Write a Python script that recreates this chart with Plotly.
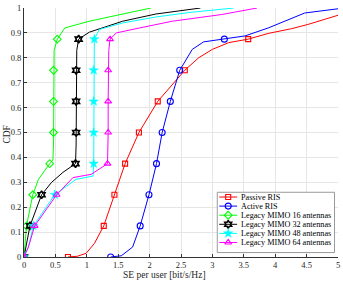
import plotly.graph_objects as go

# ---------------- data ----------------
cdf_levels = [0, 0.125, 0.25, 0.375, 0.5, 0.625, 0.75, 0.875]

series_names = ["Passive RIS", "Active RIS", "Legacy MIMO 16 antennas",
                "Legacy MIMO 32 antennas", "Legacy MIMO 48 antennas",
                "Legacy MIMO 64 antennas"]

passive_marker_x = [0.70, 1.27, 1.44, 1.61, 1.83, 2.13, 2.56, 3.57]
passive_curve_x = [0.70, 0.85, 0.99, 1.12, 1.27, 1.44, 1.61, 1.83, 2.13, 2.56, 2.78, 3.00, 3.26, 3.57, 3.89, 4.26, 4.52, 5.00]
passive_curve_y = [0, 0.003, 0.015, 0.054, 0.125, 0.25, 0.375, 0.5, 0.625, 0.75, 0.80, 0.834, 0.861, 0.875, 0.898, 0.917, 0.934, 0.971]

active_marker_x = [1.38, 1.85, 1.99, 2.11, 2.20, 2.33, 2.48, 3.19]
active_curve_x = [1.38, 1.55, 1.73, 1.85, 1.99, 2.11, 2.20, 2.33, 2.48, 2.68, 2.86, 3.19, 3.52, 3.89, 4.26, 4.47, 5.00]
active_curve_y = [0, 0.005, 0.04, 0.125, 0.25, 0.375, 0.5, 0.625, 0.75, 0.834, 0.864, 0.875, 0.888, 0.92, 0.96, 0.98, 0.997]

mimo16_marker_x = [0, 0.04, 0.14, 0.41, 0.47, 0.47, 0.47, 0.53]
mimo16_curve_x = [0, 0.04, 0.14, 0.23, 0.41, 0.46, 0.47, 0.47, 0.47, 0.47, 0.48, 0.53, 0.65, 1.04, 1.52, 2.02]
mimo16_curve_y = [0, 0.125, 0.25, 0.312, 0.375, 0.39, 0.45, 0.5, 0.625, 0.75, 0.83, 0.875, 0.92, 0.947, 0.973, 1.0]

mimo32_marker_x = [0, 0.095, 0.28, 0.82, 0.83, 0.83, 0.83, 0.87]
mimo32_curve_x = [0, 0.095, 0.28, 0.44, 0.62, 0.82, 0.83, 0.83, 0.83, 0.83, 0.84, 0.87, 1.04, 1.57, 2.10, 2.81]
mimo32_curve_y = [0, 0.125, 0.25, 0.30, 0.34, 0.375, 0.45, 0.5, 0.625, 0.75, 0.83, 0.875, 0.903, 0.947, 0.976, 1.0]

mimo48_marker_x = [0, 0.15, 0.49, 1.11, 1.11, 1.11, 1.11, 1.12]
mimo48_curve_x = [0, 0.07, 0.15, 0.49, 0.83, 1.10, 1.11, 1.11, 1.11, 1.11, 1.11, 1.12, 1.20, 1.57, 2.10, 2.63, 3.34]
mimo48_curve_y = [0, 0.04, 0.125, 0.25, 0.312, 0.325, 0.375, 0.5, 0.625, 0.75, 0.83, 0.875, 0.914, 0.94, 0.964, 0.982, 1.0]

mimo64_marker_x = [0, 0.17, 0.52, 1.33, 1.34, 1.34, 1.34, 1.37]
mimo64_curve_x = [0, 0.07, 0.17, 0.52, 0.78, 1.07, 1.33, 1.34, 1.34, 1.34, 1.34, 1.35, 1.37, 1.47, 1.84, 2.36, 3.15, 3.71]
mimo64_curve_y = [0, 0.04, 0.125, 0.25, 0.319, 0.332, 0.375, 0.45, 0.5, 0.625, 0.75, 0.83, 0.875, 0.9, 0.92, 0.947, 0.974, 1.0]

x_ticks = [0, 0.5, 1, 1.5, 2, 2.5, 3, 3.5, 4, 4.5, 5]
x_tick_labels = ["0", "0.5", "1", "1.5", "2", "2.5", "3", "3.5", "4", "4.5", "5"]
y_ticks = [0, 0.1, 0.2, 0.3, 0.4, 0.5, 0.6, 0.7, 0.8, 0.9, 1]
y_tick_labels = ["0", "0.1", "0.2", "0.3", "0.4", "0.5", "0.6", "0.7", "0.8", "0.9", "1"]

# ---------------- styles ----------------
colors = ["#FF0000", "#0000FF", "#00FF00", "#000000", "#00FFFF", "#FF00FF"]
symbols = ["square-open", "circle-open", "diamond-open", "hexagram-open", "star", "triangle-up-open"]
msizes = [5, 6, 6, 6, 7, 6]
mlines = [1.1, 1.1, 1.1, 1.6, 0.5, 1.1]
FONT = "Liberation Serif"

# plot area in pixels
PL, PR, PT, PB = 24, 340, 5, 257
W, H = 343, 282

def px2paper_x(px):
    return (px - PL) / (PR - PL)

def px2paper_y(py):
    return (PB - py) / (PB - PT)

curves = [
    (passive_curve_x, passive_curve_y, passive_marker_x),
    (active_curve_x, active_curve_y, active_marker_x),
    (mimo16_curve_x, mimo16_curve_y, mimo16_marker_x),
    (mimo32_curve_x, mimo32_curve_y, mimo32_marker_x),
    (mimo48_curve_x, mimo48_curve_y, mimo48_marker_x),
    (mimo64_curve_x, mimo64_curve_y, mimo64_marker_x),
]

fig = go.Figure()
for i, (cx, cy, mx) in enumerate(curves):
    fig.add_trace(go.Scatter(x=cx, y=cy, mode="lines", showlegend=False,
                             line=dict(color=colors[i], width=1), hoverinfo="skip"))
    fig.add_trace(go.Scatter(x=mx, y=cdf_levels, mode="markers", showlegend=False,
                             marker=dict(symbol=symbols[i], size=msizes[i], color=colors[i],
                                         line=dict(width=mlines[i], color=colors[i]))))

# ---------------- manual legend (pixel-space overlay axes) ----------------
box_l, box_r, box_t, box_b = 218.5, 336.5, 191.5, 252.5
row0, row_dy = 196.3, 9.2
line_l, line_r, mark_x, text_x = 220.5, 238.5, 229.5, 240.0

fig.add_trace(go.Scatter(x=[box_l, box_r, box_r, box_l, box_l],
                         y=[box_t, box_t, box_b, box_b, box_t],
                         xaxis="x2", yaxis="y2", mode="lines", fill="toself",
                         fillcolor="white", line=dict(color="#9a9a9a", width=1),
                         showlegend=False, hoverinfo="skip"))
annotations = []
for i, name in enumerate(series_names):
    ry = row0 + row_dy * i
    fig.add_trace(go.Scatter(x=[line_l, line_r], y=[ry, ry], xaxis="x2", yaxis="y2",
                             mode="lines", line=dict(color=colors[i], width=1),
                             showlegend=False, hoverinfo="skip"))
    fig.add_trace(go.Scatter(x=[mark_x], y=[ry], xaxis="x2", yaxis="y2", mode="markers",
                             marker=dict(symbol=symbols[i], size=msizes[i], color=colors[i],
                                         line=dict(width=mlines[i], color=colors[i])),
                             showlegend=False, hoverinfo="skip"))
    annotations.append(dict(x=text_x, y=ry, xref="x2", yref="y2", text=name,
                            showarrow=False, xanchor="left", yanchor="middle",
                            font=dict(family=FONT, size=8.2, color="#000000")))

# axis titles (paper coordinates, since they lie outside the plot area)
annotations.append(dict(x=px2paper_x(165), y=px2paper_y(275), xref="paper", yref="paper",
                        text="SE per user [bit/s/Hz]",
                        showarrow=False, xanchor="center", yanchor="middle",
                        font=dict(family=FONT, size=9.5, color="#262626")))
annotations.append(dict(x=px2paper_x(7), y=px2paper_y(133), xref="paper", yref="paper",
                        text="CDF", textangle=-90,
                        showarrow=False, xanchor="center", yanchor="middle",
                        font=dict(family=FONT, size=9.5, color="#262626")))

axis_common = dict(showgrid=True, gridcolor="#e6e6e6", gridwidth=1, zeroline=False,
                   showline=True, linecolor="#333333", linewidth=1, ticks="inside",
                   ticklen=3, tickcolor="#333333", mirror=False,
                   tickfont=dict(family=FONT, size=8.5, color="#262626"))

fig.update_layout(
    width=W, height=H,
    margin=dict(l=PL, r=W - PR, t=PT, b=H - PB),
    paper_bgcolor="white", plot_bgcolor="white",
    showlegend=False,
    xaxis=dict(range=[0, 5], tickvals=x_ticks, ticktext=x_tick_labels, **axis_common),
    yaxis=dict(range=[0, 1.0001], tickvals=y_ticks, ticktext=y_tick_labels,
               ticklabeloverflow="allow", **axis_common),
    xaxis2=dict(overlaying="x", range=[PL, PR], visible=False, fixedrange=True),
    yaxis2=dict(overlaying="y", range=[PB, PT], visible=False, fixedrange=True),
    annotations=annotations,
)

fig.write_html("out.html", config={"displayModeBar": False},
               post_script="document.body.style.margin='0px';document.body.style.padding='0px';")
